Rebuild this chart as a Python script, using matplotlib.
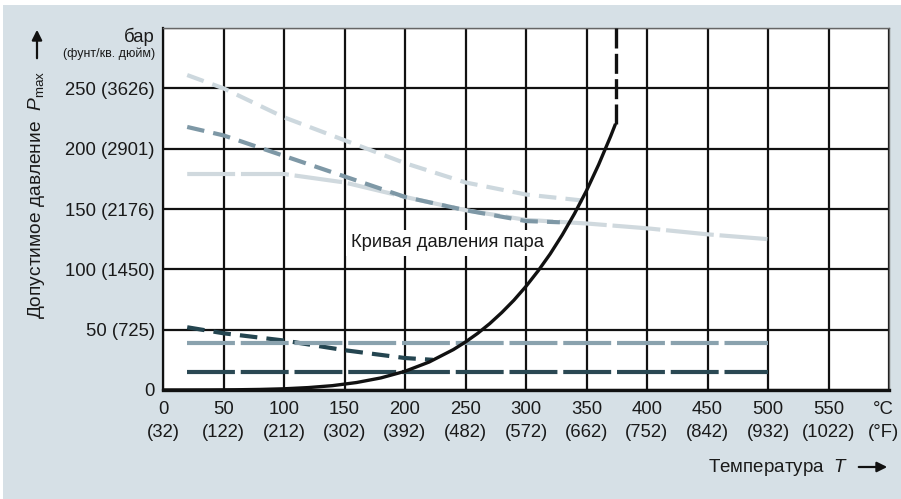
import matplotlib
matplotlib.use("Agg")
import matplotlib.pyplot as plt
import matplotlib.transforms as mtransforms
from matplotlib.patches import Rectangle

plt.rcParams['font.family'] = ['Liberation Sans', 'DejaVu Sans']
plt.rcParams['mathtext.fontset'] = 'custom'
plt.rcParams['mathtext.rm'] = 'Liberation Sans'
plt.rcParams['mathtext.it'] = 'Liberation Sans:italic'

# temperature ticks (°C) with Fahrenheit equivalents
tempTicks = [0, 50, 100, 150, 200, 250, 300, 350, 400, 450, 500, 550, 600]
tempLabels = ["0\n(32)", "50\n(122)", "100\n(212)", "150\n(302)", "200\n(392)",
              "250\n(482)", "300\n(572)", "350\n(662)", "400\n(752)", "450\n(842)",
              "500\n(932)", "550\n(1022)", "°C\n(°F)"]
pressTicks = [0, 50, 100, 150, 200, 250]
pressLabels = ["0", "50 (725)", "100 (1450)", "150 (2176)", "200 (2901)", "250 (3626)"]

# vapour pressure of water, bar
vaporT = [0, 20, 40, 60, 80, 100, 120, 140, 160, 180, 200, 220, 240, 250, 260, 270,
          280, 290, 300, 310, 320, 330, 340, 350, 360, 370, 374]
vaporP = [0.0, 0.02, 0.07, 0.2, 0.47, 1.0, 2.0, 3.6, 6.2, 10.0, 15.5, 23.2, 33.5, 39.8,
          46.9, 55.0, 64.2, 74.4, 85.9, 98.7, 112.8, 128.6, 146.0, 165.2, 186.7, 210.4, 220.6]
criticalT = 374
criticalP = 220.6

# permissible pressure curves
curveAT = [20, 50, 100, 150, 200, 250, 300, 347]
curveAP = [261, 250, 226, 207, 188, 172, 162, 157]
curveBT = [20, 50, 100, 150, 200, 250, 300, 328]
curveBP = [218, 211, 194, 177, 160, 149, 140, 139]
curveCT = [20, 100, 150, 200, 250, 300, 350, 400, 450, 500]
curveCP = [179, 179, 172, 160, 149, 141, 138, 134, 129, 125]
curveDT = [20, 50, 100, 150, 200, 223]
curveDP = [52, 47, 41, 33, 26.5, 25]
curveET = [20, 500]
curveEP = [39, 39]
curveFT = [20, 500]
curveFP = [15, 15]

W, H = 901, 499
fig = plt.figure(figsize=(W / 100, H / 100), dpi=100, facecolor='white')
fig.patches.append(Rectangle((3 / W, 0), 1, 1 - 5 / H, transform=fig.transFigure,
                             facecolor='#d6e0e6', edgecolor='none', zorder=-10))

left, right, top, bottom = 163, 889, 28, 390
ax = fig.add_axes([left / W, 1 - bottom / H, (right - left) / W, (bottom - top) / H])
ax.set_facecolor('white')
ax.set_xlim(0, 600)
ax.set_ylim(0, 300)

txtColor = '#1a1a1a'
ax.set_xticks(tempTicks)
ax.set_xticklabels(tempLabels, fontsize=13.3, linespacing=1.45, color=txtColor)
ax.set_yticks(pressTicks + [300])
ax.set_yticklabels(pressLabels + [""], fontsize=13.3, color=txtColor)
ax.tick_params(length=0, pad=6)
ax.tick_params(axis='x', pad=8)
# unit label sits against the right edge
unitTick = ax.get_xticklabels()[-1]
unitTick.set_transform(unitTick.get_transform() +
                       mtransforms.ScaledTranslation(-6 / 100, 0, fig.dpi_scale_trans))
ax.grid(True, color='#111111', lw=1.6, zorder=1)
ax.set_axisbelow(True)

ax.spines['left'].set_color('#111111')
ax.spines['left'].set_linewidth(1.6)
ax.spines['bottom'].set_color('#111111')
ax.spines['bottom'].set_linewidth(2.4)
for side in ('top', 'right'):
    ax.spines[side].set_color('#666666')
    ax.spines[side].set_linewidth(1.0)

longDash = (0, (11.5, 1.4))
shortDash = (0, (4.2, 2.2))
lw = 3.0

ax.plot(curveAT, curveAP, color='#cdd8de', lw=lw, ls=shortDash, zorder=3)
ax.plot(curveCT, curveCP, color='#d0d9de', lw=lw, ls=longDash, zorder=3)
ax.plot(curveBT, curveBP, color='#7e98a6', lw=lw, ls=shortDash, zorder=3)
ax.plot(curveDT, curveDP, color='#244550', lw=lw, ls=shortDash, zorder=3)
ax.plot(curveET, curveEP, color='#8aa2ae', lw=lw, ls=longDash, zorder=3)
ax.plot(curveFT, curveFP, color='#2a4853', lw=lw, ls=longDash, zorder=3)

ax.plot(vaporT, vaporP, color='#111111', lw=2.4, zorder=4, solid_capstyle='butt')
ax.plot([criticalT, criticalT], [criticalP, 300], color='#111111', lw=2.4,
        ls=(0, (6, 1.6)), zorder=4)

ax.text(155, 122, "Кривая давления пара", fontsize=13.2, color=txtColor, va='center',
        ha='left', zorder=2,
        bbox=dict(facecolor='white', edgecolor='none', pad=3))

# unit labels above the pressure axis
fig.text(155 / W, 1 - 37 / H, "бар", fontsize=13.3, ha='right', va='center', color=txtColor)
fig.text(155 / W, 1 - 54 / H, "(фунт/кв. дюйм)", fontsize=9, ha='right', va='center',
         color=txtColor)

fig.text(37 / W, 1 - 195 / H, r"Допустимое давление  $P_{\mathrm{max}}$", fontsize=13.8,
         rotation=90, ha='center', va='center', color=txtColor)
ax.annotate('', xy=(37, H - 27), xytext=(37, H - 61), xycoords='figure pixels',
            textcoords='figure pixels',
            arrowprops=dict(arrowstyle='-|>', color='#111111', lw=1.6, mutation_scale=15))

fig.text(848 / W, 1 - 467 / H, r"Температура  $T$", fontsize=13.5, ha='right', va='center',
         color=txtColor)
ax.annotate('', xy=(890, H - 467), xytext=(856, H - 467), xycoords='figure pixels',
            textcoords='figure pixels',
            arrowprops=dict(arrowstyle='-|>', color='#111111', lw=1.6, mutation_scale=15))

fig.savefig("out.png", dpi=100, facecolor=fig.get_facecolor())
